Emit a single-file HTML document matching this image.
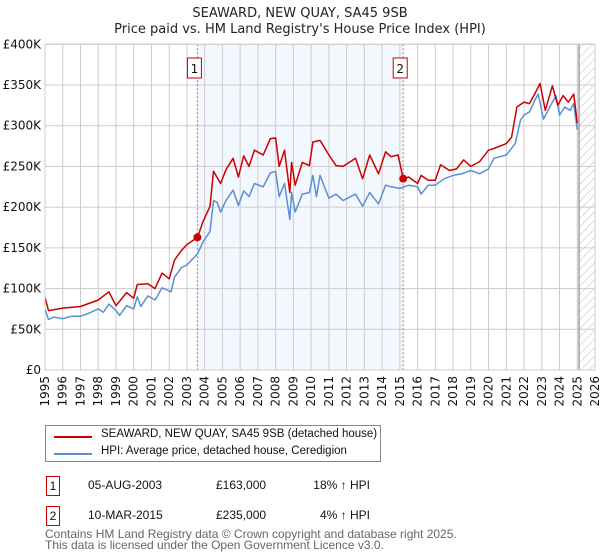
<!DOCTYPE html>
<html><head><meta charset="utf-8">
<style>
body{margin:0;background:#fff;font-family:"Liberation Sans","DejaVu Sans",sans-serif;}
#wrap{position:relative;width:600px;height:560px;overflow:hidden;}
svg text{font-family:"DejaVu Sans","Liberation Sans",sans-serif;}
</style></head>
<body>
<div id="wrap">
<svg id="chart" width="600" height="560">
<defs>
<pattern id="hatch" patternUnits="userSpaceOnUse" width="6" height="6" patternTransform="rotate(45)">
<line x1="0" y1="0" x2="0" y2="6" stroke="#bbb" stroke-width="1"/>
</pattern>
</defs>
<text x="300" y="17" text-anchor="middle" font-size="13" fill="#222">SEAWARD, NEW QUAY, SA45 9SB</text>
<text x="300" y="33" text-anchor="middle" font-size="13" fill="#222">Price paid vs. HM Land Registry's House Price Index (HPI)</text>
<g id="grid"></g>
<g id="marks"></g>
<g id="axes"></g>
</svg>
<div style="position:absolute;left:45px;top:425px;width:334px;height:35px;border:1px solid #888;font-size:11.5px;color:#111;">
 <div style="position:absolute;left:8px;top:4px;width:38px;height:2px;background:#cc0000;top:10px"></div>
 <div style="position:absolute;left:55px;top:2px;white-space:nowrap">SEAWARD, NEW QUAY, SA45 9SB (detached house)</div>
 <div style="position:absolute;left:8px;top:27px;width:38px;height:2px;background:#5b8fd4"></div>
 <div style="position:absolute;left:55px;top:19px;white-space:nowrap">HPI: Average price, detached house, Ceredigion</div>
</div>
<div style="font-size:12px;color:#111">
 <div style="position:absolute;left:46px;top:476px;width:12px;height:18px;border:1px solid #cc0000;text-align:center;line-height:18px">1</div>
 <div style="position:absolute;left:88px;top:476px;line-height:18px">05-AUG-2003</div>
 <div style="position:absolute;left:216px;top:476px;line-height:18px">£163,000</div>
 <div style="position:absolute;left:312px;top:476px;line-height:18px;width:58px;text-align:right">18% ↑ HPI</div>
 <div style="position:absolute;left:46px;top:506px;width:12px;height:18px;border:1px solid #cc0000;text-align:center;line-height:18px">2</div>
 <div style="position:absolute;left:88px;top:506px;line-height:18px">10-MAR-2015</div>
 <div style="position:absolute;left:216px;top:506px;line-height:18px">£235,000</div>
 <div style="position:absolute;left:312px;top:506px;line-height:18px;width:58px;text-align:right">4% ↑ HPI</div>
</div>
<div style="position:absolute;left:45px;top:529px;font-size:12px;line-height:11px;color:#666">Contains HM Land Registry data © Crown copyright and database right 2025.<br>This data is licensed under the Open Government Licence v3.0.</div>
</div>
<script>
const yTicks=[0,50,100,150,200,250,300,350,400];
const yTickLabels=["£0","£50K","£100K","£150K","£200K","£250K","£300K","£350K","£400K"];
const xYears=[1995,1996,1997,1998,1999,2000,2001,2002,2003,2004,2005,2006,2007,2008,2009,2010,2011,2012,2013,2014,2015,2016,2017,2018,2019,2020,2021,2022,2023,2024,2025,2026];
const hpiYears=[1995.0,1995.2,1995.5,1996.0,1996.5,1997.0,1997.5,1998.0,1998.3,1998.6,1999.0,1999.2,1999.6,2000.0,2000.2,2000.4,2000.8,2001.2,2001.6,2002.0,2002.1,2002.3,2002.7,2003.0,2003.6,2003.9,2004.3,2004.5,2004.7,2004.9,2005.2,2005.6,2005.9,2006.2,2006.5,2006.8,2007.3,2007.7,2008.0,2008.2,2008.5,2008.8,2008.9,2009.1,2009.5,2009.9,2010.1,2010.3,2010.5,2011.0,2011.4,2011.8,2012.5,2012.9,2013.3,2013.8,2014.2,2014.5,2015.0,2015.5,2016.0,2016.2,2016.6,2017.0,2017.5,2018.0,2018.5,2019.0,2019.5,2020.0,2020.3,2021.0,2021.5,2021.8,2022.0,2022.3,2022.6,2022.8,2023.1,2023.5,2023.8,2024.0,2024.3,2024.6,2024.8,2025.0];
const hpiValues=[75,62,65,63,66,66,70,75,71,81,73,67,79,75,90,78,91,86,101,97,96,114,126,129,143,157,170,208,206,194,208,221,202,220,213,229,225,242,244,213,229,185,218,194,216,218,239,213,239,211,216,208,216,201,218,204,227,225,223,227,225,216,227,227,235,239,241,245,241,247,260,264,278,307,313,317,331,339,308,325,337,313,323,319,327,295];
const priceYears=[1995.0,1995.2,1996.0,1997.0,1998.0,1998.6,1999.0,1999.6,2000.0,2000.2,2000.8,2001.2,2001.6,2002.0,2002.3,2002.7,2003.0,2003.6,2003.9,2004.3,2004.5,2004.9,2005.2,2005.6,2005.9,2006.2,2006.5,2006.8,2007.3,2007.7,2008.0,2008.2,2008.5,2008.8,2008.9,2009.1,2009.5,2009.9,2010.1,2010.5,2011.0,2011.4,2011.8,2012.5,2012.9,2013.3,2013.8,2014.2,2014.5,2014.9,2015.19,2015.5,2016.0,2016.2,2016.6,2017.0,2017.3,2017.8,2018.2,2018.6,2019.0,2019.5,2020.0,2020.3,2021.0,2021.3,2021.6,2022.0,2022.3,2022.6,2022.9,2023.2,2023.6,2023.9,2024.2,2024.5,2024.8,2025.0];
const priceValues=[89,73,76,78,86,96,79,95,88,105,106,100,119,112,135,147,154,163,182,201,244,229,246,260,237,263,250,270,264,284,285,250,270,218,255,227,255,251,280,282,264,251,250,260,235,264,241,268,262,264,235,237,229,239,233,233,252,245,247,258,250,256,270,272,278,286,323,329,327,339,352,319,349,325,337,329,339,303];
const saleYears=[2003.59,2015.19];
const salePrices=[163,235];
const saleLabels=["1","2"];

const NS="http://www.w3.org/2000/svg";
const X0=45,X1=595,Y0=370,Y400=44.3;
const xs=y=>X0+(y-1995)*(X1-X0)/31;
const ys=v=>Y0-v*(Y0-Y400)/400;
function mk(tag,attrs,parent){const e=document.createElementNS(NS,tag);for(const k in attrs)e.setAttribute(k,attrs[k]);parent.appendChild(e);return e;}
const grid=document.getElementById('grid'),marks=document.getElementById('marks'),axes=document.getElementById('axes');
// shaded period
let sh=mk('rect',{x:xs(saleYears[0]),y:Y400,width:xs(saleYears[1])-xs(saleYears[0]),height:Y0-Y400,fill:'#eef3fd',opacity:0.7},grid);


let ht=mk('rect',{x:xs(2025.1),y:Y400,width:X1-xs(2025.1),height:Y0-Y400,fill:'url(#hatch)'},grid);


xYears.forEach(yr=>{
 let l=mk('line',{x1:xs(yr),x2:xs(yr),y1:Y400,y2:Y0,stroke:'#cccccc','stroke-width':1},grid);
 
 
 let t=mk('text',{x:0,y:0,'font-size':12,fill:'#111','text-anchor':'end',transform:`translate(${xs(yr)+4},${Y0+6}) rotate(-90)`},axes);
 t.textContent=yr;
 
 
});
yTicks.forEach((v,i)=>{
 let l=mk('line',{x1:X0,x2:X1,y1:ys(v),y2:ys(v),stroke:'#cccccc','stroke-width':1},grid);
 
 
 let t=mk('text',{x:X0-4,y:ys(v)+4,'font-size':12,fill:'#111','text-anchor':'end'},axes);
 t.textContent=yTickLabels[i];
 
 
});
let vl=mk('line',{x1:xs(2025.1),x2:xs(2025.1),y1:Y400,y2:Y0,stroke:'#888','stroke-width':1.2},grid);


saleYears.forEach((yr,i)=>{
 let d=mk('line',{x1:xs(yr),x2:xs(yr),y1:Y400,y2:Y0,stroke:'#e06060','stroke-width':1,'stroke-dasharray':'2,2'},marks);
 
 
});
function path(xa,va,color,name){
 let d=xa.map((y,i)=>(i?'L':'M')+xs(y).toFixed(1)+','+ys(va[i]).toFixed(1)).join('');
 let p=mk('path',{d:d,fill:'none',stroke:color,'stroke-width':1.5,'stroke-linejoin':'round'},marks);
 
 
}
path(hpiYears,hpiValues,'#5b8fd4','hpi-line');
path(priceYears,priceValues,'#cc0000','property-price-line');
saleYears.forEach((yr,i)=>{
 let c=mk('circle',{cx:xs(yr),cy:ys(salePrices[i]),r:4,fill:'#cc0000'},marks);
 
 
 let r=mk('rect',{x:xs(yr)-10,y:58,width:14,height:20,fill:'#fff',stroke:'#cc0000','stroke-width':1},marks);
 
 
 let t=mk('text',{x:xs(yr)-3,y:73,'font-size':12,fill:'#111','text-anchor':'middle'},marks);
 t.textContent=saleLabels[i];
 
 
});
let b=mk('rect',{x:X0,y:Y400,width:X1-X0,height:Y0-Y400,fill:'none',stroke:'#cccccc','stroke-width':1},axes);


</script>
</body></html>
